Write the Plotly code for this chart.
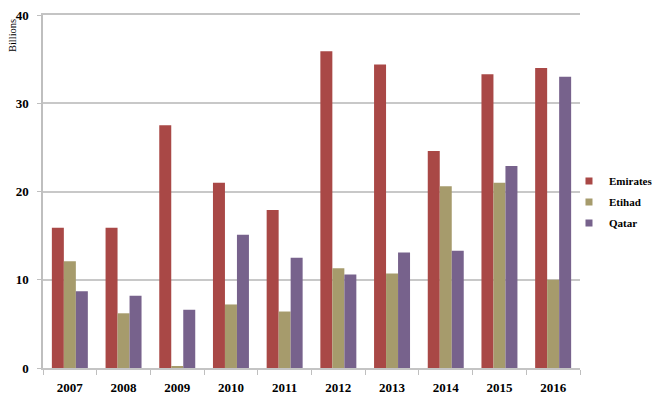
import plotly.graph_objects as go

years = ["2007", "2008", "2009", "2010", "2011", "2012", "2013", "2014", "2015", "2016"]
emirates = [15.9, 15.9, 27.5, 21.0, 17.9, 35.9, 34.4, 24.6, 33.3, 34.0]
etihad = [12.1, 6.2, 0.2, 7.2, 6.4, 11.3, 10.7, 20.6, 21.0, 10.0]
qatar = [8.7, 8.2, 6.6, 15.1, 12.5, 10.6, 13.1, 13.3, 22.9, 33.0]
series_names = ["Emirates", "Etihad", "Qatar"]
colors = ["#A94846", "#A69B6C", "#77628C"]

FONT = "Liberation Serif"

fig = go.Figure()
for name, vals, col in zip(series_names, [emirates, etihad, qatar], colors):
    fig.add_trace(go.Bar(x=years, y=vals, name=name, marker=dict(color=col, line=dict(width=0)),
                         showlegend=False))
for name, col in zip(series_names, colors):
    fig.add_trace(go.Scatter(x=[None], y=[None], mode="markers", name=name, legendgroup=name,
                             marker=dict(symbol="square", size=7, color=col)))

# The page body has an 8px default margin, so the figure is sized/offset to compensate.
fig.update_layout(
    width=656, height=390,
    margin=dict(l=35, r=84, t=7, b=30, autoexpand=False),
    plot_bgcolor="white", paper_bgcolor="white",
    barmode="group", bargap=0.33, bargroupgap=0,
    font=dict(family=FONT, color="black"),
    legend=dict(x=0.9795, y=0.47, xanchor="left", yanchor="middle",
                font=dict(family=FONT, size=11, color="black", weight="bold"),
                itemwidth=30, tracegroupgap=2, bgcolor="rgba(0,0,0,0)"),
    xaxis=dict(type="category", showgrid=False, showline=True, linecolor="#c4c4c4", linewidth=1.5,
               mirror=True,
               ticks="outside", tickson="boundaries", ticklen=5, tickcolor="#bfbfbf",
               ticklabelstandoff=7,
               tickfont=dict(family=FONT, size=13, color="black", weight="bold"),
               range=[-0.5, 9.5]),
    yaxis=dict(range=[0, 40], tickvals=[0, 10, 20, 30, 40], showgrid=True,
               gridcolor="#c8c8c8", gridwidth=1.5,
               showline=True, linecolor="#bfbfbf", linewidth=1.5,
               ticks="outside", ticklen=4, tickcolor="#bfbfbf", zeroline=False,
               ticklabelstandoff=6, ticklabeloverflow="allow",
               tickfont=dict(family=FONT, size=13, color="black", weight="bold")),
    annotations=[dict(text="Billions", textangle=-90, xref="paper", yref="paper",
                      x=-0.0568, y=0.994, xanchor="center", yanchor="top",
                      showarrow=False, font=dict(family=FONT, size=10.5, color="black"))],
)
fig.write_html("out.html")
